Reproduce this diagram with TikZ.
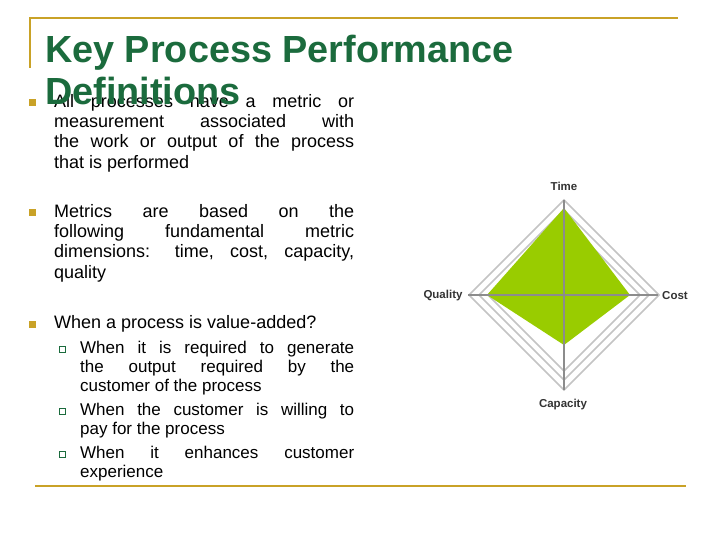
\documentclass[tikz,border=0pt]{standalone}
\usepackage{fontspec}
\setmainfont{Liberation Sans}
\definecolor{gold}{HTML}{C9A227}
\definecolor{ttl}{HTML}{1B6B3D}
\definecolor{grn}{HTML}{99CC00}
\definecolor{axg}{HTML}{8C8C8C}
\definecolor{dg}{HTML}{C4C4C4}
\newcommand{\jb}[1]{\makebox[300pt][s]{#1}}
\newcommand{\js}[1]{\makebox[274pt][s]{#1}}
\begin{document}
\begin{tikzpicture}[x=1pt,y=-1pt,
  body/.style={anchor=north west,inner sep=0pt,align=left,font=\fontsize{18}{20.3}\selectfont},
  sub/.style={anchor=north west,inner sep=0pt,align=left,font=\fontsize{17}{19.2}\selectfont},
  bul/.style={fill=gold,minimum size=7pt,inner sep=0pt},
  sbul/.style={draw=ttl,line width=0.8pt,minimum size=6pt,inner sep=0pt},
  ttlf/.style={anchor=base west,inner sep=0pt,text=ttl,font=\bfseries\fontsize{37.8}{40}\selectfont},
  lbl/.style={font=\bfseries\fontsize{11.5}{13}\selectfont,text=black!80}]
\useasboundingbox (0,0) rectangle (720,540);
\fill[white] (0,0) rectangle (720,540);
% frame lines
\coordinate (t1) at (30,18); \coordinate (t2) at (678,18); \coordinate (t3) at (30,68);
\draw[gold,line width=2.5pt] (t3) -- (t1) -- (t2);
\coordinate (b1) at (35,486); \coordinate (b2) at (686,486);
\draw[gold,line width=2.5pt] (b1) -- (b2);
% title
\node[ttlf] (title1) at (45,63) {Key Process Performance};
% bullets
\node[bul] (bu1) at (32,103) {};
\node[body] (p1) at (54,94) {\jb{All processes have a metric or}\\\jb{measurement associated with}\\\jb{the work or output of the process}\\that is performed};
\node[ttlf] (title2) at (45,105) {Definitions};
\node[bul] (bu2) at (32,213) {};
\node[body] (p2) at (54,204) {\jb{Metrics are based on the}\\\jb{following fundamental metric}\\\jb{dimensions: time, cost, capacity,}\\quality};
\node[bul] (bu3) at (32,324) {};
\node[body] (p3) at (54,315) {When a process is value-added?};
\node[sbul] (sb1) at (62,349) {};
\node[sub] (s1) at (80,341) {\js{When it is required to generate}\\\js{the output required by the}\\customer of the process};
\node[sbul] (sb2) at (62,411) {};
\node[sub] (s2) at (80,403) {\js{When the customer is willing to}\\pay for the process};
\node[sbul] (sb3) at (62,454) {};
\node[sub] (s3) at (80,446) {\js{When it enhances customer}\\experience};
% radar
\coordinate (c) at (564,295);
\foreach \r in {76,85,95}
  \draw[dg,line width=1.6pt] (564,295-\r) -- (564+\r,295) -- (564,295+\r) -- (564-\r,295) -- cycle;
\fill[grn] (564,208) -- (630,295) -- (564,345) -- (487,295) -- cycle;
\coordinate (aT) at (564,200); \coordinate (aB) at (564,390);
\coordinate (aL) at (468,295); \coordinate (aR) at (658,295);
\draw[axg,line width=2.2pt] (aT) -- (aB);
\draw[axg,line width=2.2pt] (aL) -- (aR);
\node[lbl] (lt) at (564,186) {Time};
\node[lbl] (lr) at (675,296) {Cost};
\node[lbl] (ll) at (443,296) {Quality};
\node[lbl] (lb) at (563,405) {Capacity};
\end{tikzpicture}
\end{document}
